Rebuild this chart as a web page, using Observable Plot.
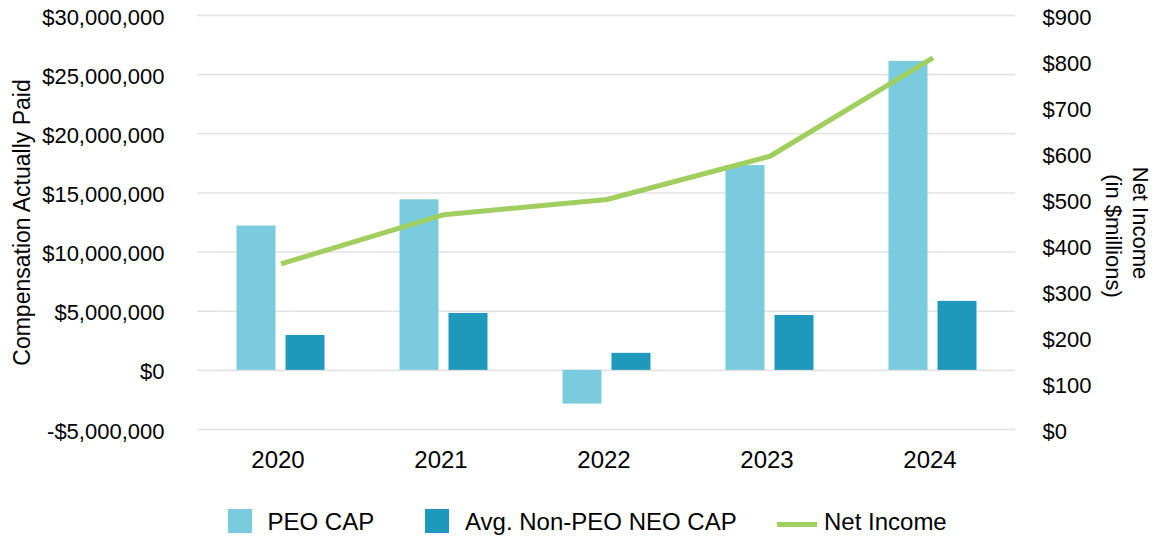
<!DOCTYPE html>
<html>
<head>
<meta charset="utf-8">
<script src="https://cdn.jsdelivr.net/npm/d3@7"></script>
<script src="https://cdn.jsdelivr.net/npm/@observablehq/plot@0.6"></script>
<style>
  html, body { margin: 0; padding: 0; background: #fff; }
  #wrap { position: relative; width: 1159px; height: 539px; font-family: "Liberation Sans", Arial, sans-serif; color: #000; }
  #legend { position: absolute; left: 0; top: 490px; width: 1159px; height: 49px; }
  .sw { position: absolute; top: 19px; width: 24px; height: 24px; }
  .ln { position: absolute; top: 31.5px; width: 40px; height: 5px; }
  .lt { position: absolute; top: 20px; line-height: 24px; font-size: 24px; white-space: nowrap; }
  .ytitle { position: absolute; white-space: nowrap; line-height: 1; }
</style>
</head>
<body>
<div id="wrap">
  <div id="chart"></div>
  <div id="legend"></div>
</div>
<script>
// ---- data ----
const years = ["2020", "2021", "2022", "2023", "2024"];
const peoCap = [12200000, 14420000, -2850000, 17310000, 26120000];
const nonPeoCap = [2950000, 4810000, 1440000, 4640000, 5830000];
const netIncome = [360, 467, 500, 594, 808]; // $ millions
const compTicks = [-5000000, 0, 5000000, 10000000, 15000000, 20000000, 25000000, 30000000];
const niTicks = [0, 100, 200, 300, 400, 500, 600, 700, 800, 900];
const seriesNames = ["PEO CAP", "Avg. Non-PEO NEO CAP", "Net Income"];
const colors = ["#7ACBDD", "#1E98BB", "#A0CE5F"];

// ---- mapping for secondary axis ----
const yMin = -5000000, yMax = 30000000, niMax = 900;
const niToY = v => yMin + v * (yMax - yMin) / niMax;
const yToNi = y => (y - yMin) * niMax / (yMax - yMin);

const peoData = years.map((y, i) => ({year: y, value: peoCap[i]}));
const nonData = years.map((y, i) => ({year: y, value: nonPeoCap[i]}));
const niData = years.map((y, i) => ({year: y, value: niToY(netIncome[i])}));

const fmtComp = v => (v < 0 ? "-" : "") + "$" + d3.format(",")(Math.abs(v));

const chart = Plot.plot({
  width: 1159,
  height: 490,
  marginLeft: 197,
  marginRight: 144,
  marginTop: 15,
  marginBottom: 61,
  style: {fontFamily: "Liberation Sans, Arial, sans-serif", fontSize: "22px", color: "#000", background: "#fff"},
  x: {domain: years, padding: 0, label: null},
  y: {domain: [yMin, yMax], label: null},
  marks: [
    Plot.gridY(compTicks, {stroke: "#e3e3e3", strokeOpacity: 1, strokeWidth: 1.6}),
    Plot.barY(peoData, {x: "year", y: "value", fill: colors[0], insetLeft: 37.5, insetRight: 86.5}),
    Plot.barY(nonData, {x: "year", y: "value", fill: colors[1], insetLeft: 86.5, insetRight: 37.5}),
    Plot.line(niData, {x: "year", y: "value", stroke: colors[2], strokeWidth: 5, strokeLinejoin: "miter", strokeLinecap: "butt"}),
    Plot.axisY(compTicks, {anchor: "left", tickSize: 0, tickPadding: 33, tickFormat: fmtComp, fontSize: 22, dy: 2, label: null}),
    Plot.axisY(niTicks.map(niToY), {anchor: "right", tickSize: 0, tickPadding: 27, tickFormat: d => "$" + Math.round(yToNi(d)), fontSize: 22, dy: 2, label: null}),
    Plot.axisX(years, {anchor: "bottom", tickSize: 0, tickPadding: 21, fontSize: 24, dx: -3, label: null})
  ]
});
document.getElementById("chart").appendChild(chart);

// axis titles
const wrap = document.getElementById("wrap");
function addTitle(text, cx, cy, rot, size) {
  const d = document.createElement("div");
  d.className = "ytitle";
  d.style.fontSize = size + "px";
  d.textContent = text;
  wrap.appendChild(d);
  const w = d.offsetWidth, h = d.offsetHeight;
  d.style.left = (cx - w / 2) + "px";
  d.style.top = (cy - h / 2) + "px";
  d.style.transform = `rotate(${rot}deg)`;
}
addTitle("Compensation Actually Paid", 21.5, 222.5, -90, 23);
addTitle("Net Income", 1140, 223, 90, 22);
addTitle("(in $millions)", 1112.5, 236, 90, 22);

// legend
const legend = document.getElementById("legend");
const items = [
  {type: "sw", left: 228, tleft: 267.5},
  {type: "sw", left: 424.5, tleft: 465},
  {type: "ln", left: 777, tleft: 824}
];
items.forEach((it, i) => {
  const s = document.createElement("div");
  s.className = it.type;
  s.style.left = it.left + "px";
  s.style.background = colors[i];
  legend.appendChild(s);
  const t = document.createElement("div");
  t.className = "lt";
  t.style.left = it.tleft + "px";
  t.textContent = seriesNames[i];
  legend.appendChild(t);
});
</script>
</body>
</html>
